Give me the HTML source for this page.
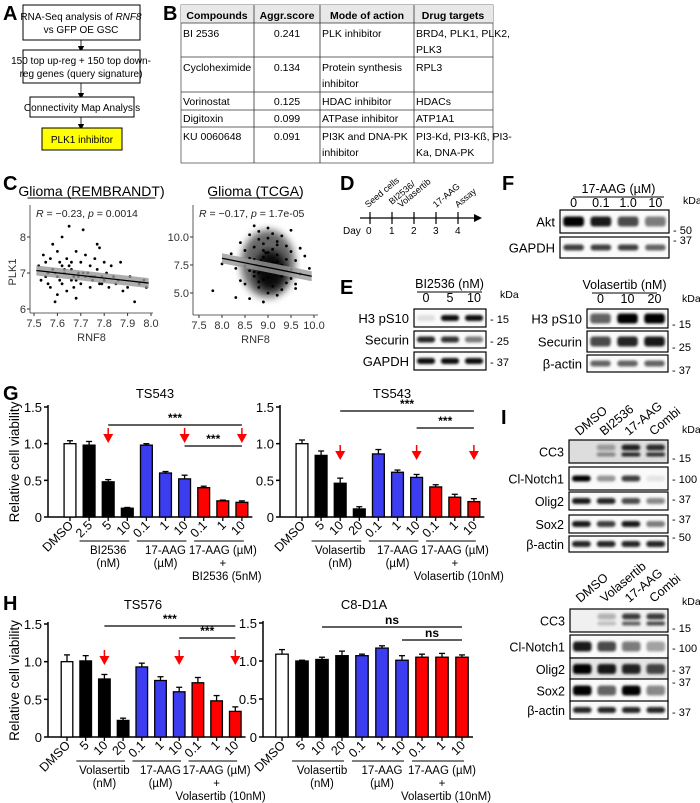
<!DOCTYPE html>
<html><head><meta charset="utf-8">
<style>
html,body{margin:0;padding:0;background:#fff;}
svg{display:block;font-family:"Liberation Sans",Arial,sans-serif;}
</style></head>
<body>
<svg id="fig" width="700" height="803" viewBox="0 0 700 803" xmlns="http://www.w3.org/2000/svg">
<defs>
<filter id="blur1" x="-20%" y="-50%" width="140%" height="200%"><feGaussianBlur stdDeviation="1.3"/></filter>
<filter id="blur3"><feGaussianBlur stdDeviation="4"/></filter>
<marker id="arr" markerWidth="8" markerHeight="8" refX="4" refY="4" orient="auto"><path d="M0,0 L8,4 L0,8 z" fill="#000"/></marker>
</defs>

<g font-weight="bold" font-size="20">
<text x="3" y="20">A</text><text x="163" y="20">B</text><text x="3" y="190">C</text>
<text x="340" y="190">D</text><text x="340" y="294">E</text><text x="502" y="190">F</text>
<text x="3" y="400">G</text><text x="3" y="610">H</text><text x="501" y="424">I</text>
</g>

<g font-size="10" text-anchor="middle">
<rect x="23" y="5" width="117" height="35" fill="#fff" stroke="#000"/>
<text x="81" y="20">RNA-Seq analysis of <tspan font-style="italic">RNF8</tspan></text>
<text x="81" y="33">vs GFP OE GSC</text>
<line x1="81" y1="40" x2="81" y2="49" stroke="#000" marker-end="url(#arr)" stroke-width="0.8"/>
<rect x="23" y="50" width="117" height="33" fill="#fff" stroke="#000"/>
<text x="81" y="64">150 top up-reg + 150 top down-</text>
<text x="81" y="77">reg genes (query signature)</text>
<line x1="81" y1="83" x2="81" y2="96" stroke="#000" marker-end="url(#arr)" stroke-width="0.8"/>
<rect x="30" y="97" width="104" height="20" fill="#fff" stroke="#000"/>
<text x="82" y="111">Connectivity Map Analysis</text>
<line x1="81" y1="117" x2="81" y2="127" stroke="#000" marker-end="url(#arr)" stroke-width="0.8"/>
<rect x="42" y="128" width="80" height="22" fill="#ffff00" stroke="#000"/>
<text x="82" y="143">PLK1 inhibitor</text>
</g>

<g font-size="10.5">
<rect x="181" y="5" width="312" height="158" fill="#fff" stroke="#555" stroke-width="0.8"/>
<rect x="181" y="5" width="312" height="18" fill="#e8e8e8"/>
<g stroke="#333" stroke-width="0.8">
<line x1="181" y1="23" x2="493" y2="23"/><line x1="181" y1="57" x2="493" y2="57"/>
<line x1="181" y1="92" x2="493" y2="92"/><line x1="181" y1="110" x2="493" y2="110"/>
<line x1="181" y1="127" x2="493" y2="127"/>
<line x1="254" y1="5" x2="254" y2="163"/><line x1="320" y1="5" x2="320" y2="163"/><line x1="414" y1="5" x2="414" y2="163"/>
</g>
<g font-weight="bold" text-anchor="middle"><text x="217" y="19">Compounds</text><text x="287" y="19">Aggr.score</text><text x="367" y="19">Mode of action</text><text x="453" y="19">Drug targets</text></g>
<g>
<text x="183" y="37">BI 2536</text><text x="287" y="37" text-anchor="middle">0.241</text><text x="322" y="37">PLK inhibitor</text><text x="416" y="37">BRD4, PLK1, PLK2,</text><text x="416" y="53">PLK3</text>
<text x="183" y="71">Cycloheximide</text><text x="287" y="71" text-anchor="middle">0.134</text><text x="322" y="71">Protein synthesis</text><text x="322" y="87">inhibitor</text><text x="416" y="71">RPL3</text>
<text x="183" y="105">Vorinostat</text><text x="287" y="105" text-anchor="middle">0.125</text><text x="322" y="105">HDAC inhibitor</text><text x="416" y="105">HDACs</text>
<text x="183" y="122">Digitoxin</text><text x="287" y="122" text-anchor="middle">0.099</text><text x="322" y="122">ATPase inhibitor</text><text x="416" y="122">ATP1A1</text>
<text x="183" y="140">KU 0060648</text><text x="287" y="140" text-anchor="middle">0.091</text><text x="322" y="140">PI3K and DNA-PK</text><text x="322" y="156">inhibitor</text><text x="416" y="140">PI3-Kd, PI3-Kß, PI3-</text><text x="416" y="156">Ka, DNA-PK</text>
</g>
</g>

<g id="scatter"></g>

<g font-size="10">
<line x1="360" y1="218" x2="476" y2="218" stroke="#000" stroke-width="1.2"/>
<path d="M474,214 L482,218 L474,222 z" fill="#000"/>
<g stroke="#000" stroke-width="1.2"><line x1="370" y1="212" x2="370" y2="224"/><line x1="392" y1="212" x2="392" y2="224"/><line x1="414" y1="212" x2="414" y2="224"/><line x1="436" y1="212" x2="436" y2="224"/><line x1="458" y1="212" x2="458" y2="224"/></g>
<text x="343" y="234">Day</text><text x="366" y="234">0</text><text x="389" y="234">1</text><text x="411" y="234">2</text><text x="433" y="234">3</text><text x="455" y="234">4</text>
<g font-size="9"><text transform="translate(368,208) rotate(-40)">Seed cells</text>
<text transform="translate(392,205) rotate(-40)">BI2536/</text><text transform="translate(401,208) rotate(-40)">Volasertib</text>
<text transform="translate(436,208) rotate(-40)">17-AAG</text><text transform="translate(458,208) rotate(-40)">Assay</text></g>
</g>

<g id="blots"></g>
<g id="bars"></g>
</svg>

<script>
const NS="http://www.w3.org/2000/svg";
function mk(tag,attrs,parent,txt){const e=document.createElementNS(NS,tag);for(const k in attrs)e.setAttribute(k,attrs[k]);if(txt!==undefined)e.textContent=txt;parent.appendChild(e);return e;}

const g1Categories=["DMSO","2.5","5","10","0.1","1","10","0.1","1","10"];
const g1Values=[1.0,0.98,0.48,0.12,0.98,0.60,0.52,0.40,0.22,0.20];
const g1Errors=[0.04,0.05,0.03,0.01,0.02,0.02,0.05,0.02,0.01,0.02];
const g2Categories=["DMSO","5","10","20","0.1","1","10","0.1","1","10"];
const g2Values=[1.0,0.84,0.46,0.11,0.86,0.61,0.54,0.41,0.27,0.21];
const g2Errors=[0.05,0.06,0.07,0.03,0.06,0.03,0.04,0.03,0.04,0.04];
const h1Categories=["DMSO","5","10","20","0.1","1","10","0.1","1","10"];
const h1Values=[1.0,1.01,0.77,0.22,0.93,0.75,0.60,0.72,0.48,0.34];
const h1Errors=[0.09,0.07,0.06,0.03,0.05,0.05,0.06,0.07,0.07,0.06];
const h2Categories=["DMSO","5","10","20","0.1","1","10","0.1","1","10"];
const h2Values=[1.09,1.00,1.02,1.07,1.07,1.17,1.01,1.05,1.05,1.05];
const h2Errors=[0.06,0.01,0.03,0.06,0.02,0.03,0.06,0.04,0.05,0.03];
const yTicks=[0,0.5,1.0,1.5];
const yTickLabels=["0","0.5","1.0","1.5"];
const barGroupColors=["#fff","#000","#000","#000","#3c3cf0","#3c3cf0","#3c3cf0","#f00","#f00","#f00"];

const rembrandtRNF8=[7.52,7.53,7.54,7.55,7.55,7.56,7.57,7.58,7.58,7.59,7.6,7.6,7.61,7.62,7.62,7.63,7.64,7.64,7.65,7.66,7.66,7.67,7.68,7.68,7.69,7.7,7.7,7.71,7.72,7.72,7.73,7.74,7.74,7.75,7.76,7.76,7.77,7.78,7.78,7.79,7.8,7.8,7.81,7.82,7.83,7.84,7.85,7.86,7.87,7.88,7.9,7.91,7.93,7.95,7.97,7.98,7.57,7.61,7.65,7.69,7.73,7.77,7.79,7.63,7.67,7.71,7.75,7.56,7.59,7.62,7.68,7.74,7.6,7.66];
const rembrandtPLK1=[7.2,6.8,7.5,6.9,7.3,7.0,6.6,7.8,7.1,6.2,7.6,6.9,7.3,6.7,8.0,7.0,6.5,7.4,8.3,6.8,7.1,6.9,7.6,6.3,7.0,7.3,6.7,8.2,6.9,7.5,7.0,6.6,7.2,6.8,7.4,6.9,7.1,7.7,6.7,6.9,7.3,6.8,7.0,6.6,7.2,6.9,6.7,6.8,7.3,6.5,6.6,6.9,6.2,6.7,6.8,6.6,7.4,6.8,7.2,6.9,7.0,7.8,6.7,7.1,6.6,7.0,6.9,6.7,7.0,7.2,6.8,6.9,6.4,7.3];
const tcgaRNF8=[7.8,8.0,8.2,8.3,8.4,8.4,8.5,8.5,8.6,8.6,8.6,8.7,8.7,8.7,8.7,8.8,8.8,8.8,8.8,8.8,8.9,8.9,8.9,8.9,8.9,9.0,9.0,9.0,9.0,9.0,9.0,9.1,9.1,9.1,9.1,9.1,9.2,9.2,9.2,9.2,9.3,9.3,9.3,9.3,9.4,9.4,9.4,9.5,9.5,9.5,9.6,9.6,9.7,9.7,9.8,9.9,8.6,8.8,9.0,9.2,9.4,8.5,8.7,8.9,9.1,9.3,9.5,8.3,9.6,8.95,9.05,9.15,8.85,8.75];
const tcgaPLK1=[5.2,7.6,8.5,7.2,9.5,6.1,8.8,5.8,10.2,7.0,4.5,9.1,6.5,8.0,11.0,9.8,7.4,5.5,10.5,6.8,8.2,9.4,4.2,7.7,6.2,10.8,8.6,5.0,7.1,9.9,6.4,8.9,7.3,10.3,5.6,6.9,9.6,7.8,4.8,8.4,10.1,6.6,7.5,5.3,9.2,7.0,5.9,8.7,6.3,10.6,7.9,5.4,9.0,6.7,8.3,7.2,8.1,6.0,7.6,9.3,8.0,7.4,6.9,8.8,7.7,6.5,7.1,4.6,5.8,8.6,7.3,6.8,7.9,7.5];

function barChart(cfg){
  const root=document.getElementById('bars');
  const g=mk('g',{},root);
  
  
  const y=v=>cfg.y0-(v/1.5)*(cfg.y0-cfg.y15);
  const x=i=>cfg.x0+i*cfg.step;
  mk('line',{x1:cfg.ax,y1:cfg.y15-2,x2:cfg.ax,y2:cfg.y0,stroke:'#000','stroke-width':1.5},g);
  mk('line',{x1:cfg.ax,y1:cfg.y0,x2:x(cfg.vals.length-1)+cfg.step*0.55,y2:cfg.y0,stroke:'#000','stroke-width':1.5},g);
  yTicks.forEach((t,i)=>{
    mk('line',{x1:cfg.ax-4,y1:y(t),x2:cfg.ax,y2:y(t),stroke:'#000','stroke-width':1.5},g);
    const tl=mk('text',{x:cfg.ax-6,y:y(t)+5,'text-anchor':'end','font-size':13},g,yTickLabels[i]);
    
    
  });
  cfg.vals.forEach((v,i)=>{
    const bw=cfg.step*0.62;
    const ey=y(v+cfg.errs[i]);
    mk('line',{x1:x(i),y1:ey,x2:x(i),y2:y(v),stroke:'#000','stroke-width':1.3},g);
    mk('line',{x1:x(i)-3,y1:ey,x2:x(i)+3,y2:ey,stroke:'#000','stroke-width':1.3},g);
    const b=mk('rect',{x:x(i)-bw/2,y:y(v),width:bw,height:cfg.y0-y(v),fill:barGroupColors[i],stroke:'#000','stroke-width':1.3},g);
    
    
    mk('line',{x1:x(i),y1:cfg.y0,x2:x(i),y2:cfg.y0+4,stroke:'#000','stroke-width':1.3},g);
    const lab=mk('text',{transform:`translate(${x(i)+4},${cfg.y0+9}) rotate(-45)`,'text-anchor':'end','font-size':12.5},g,cfg.cats[i]);
    
    
  });
  const yt=mk('text',{transform:`translate(${cfg.ax-29},${(cfg.y0+cfg.y15)/2}) rotate(-90)`,'text-anchor':'middle','font-size':13.5},g,cfg.showY?'Relative cell viability':'');
  
  
  const tt=mk('text',{x:cfg.titleX,y:cfg.titleY,'text-anchor':'middle','font-size':13},g,cfg.title);
  
  
  const gl=cfg.y0+24;
  [[1,3,cfg.g1],[4,6,cfg.g2],[7,9,cfg.g3]].forEach(([a,b,labs])=>{
    mk('line',{x1:x(a)-cfg.step*0.5,y1:gl,x2:x(b)+cfg.step*0.1,y2:gl,stroke:'#000','stroke-width':1},g);
    labs.forEach((s,k)=>mk('text',{x:(x(a)+x(b))/2+(k==2?4:0),y:gl+13+k*13,'text-anchor':'middle','font-size':11.5},g,s));
  });
  cfg.sig.forEach(s=>{
    mk('line',{x1:x(s[0]),y1:s[2],x2:x(s[1]),y2:s[2],stroke:'#000','stroke-width':1.3},g);
    mk('text',{x:(x(s[0])+x(s[1]))/2,y:s[2]-3,'text-anchor':'middle','font-size':12,'font-weight':'bold'},g,s[3]);
  });
  (cfg.arrows||[]).forEach(i=>{
    const a=mk('g',{},g);
    
    
    mk('line',{x1:x(i),y1:cfg.arrowY,x2:x(i),y2:cfg.arrowY+8,stroke:'#f00','stroke-width':1.5},a);
    mk('path',{d:`M${x(i)-5},${cfg.arrowY+6} L${x(i)+5},${cfg.arrowY+6} L${x(i)},${cfg.arrowY+15} z`,fill:'#f00'},a);
  });
}

barChart({name:'chart-g-ts543-bi2536',ax:48,y0:517,y15:407,x0:70,step:19.1,cats:g1Categories,vals:g1Values,errs:g1Errors,showY:true,title:'TS543',titleX:155,titleY:398,
  g1:['BI2536','(nM)'],g2:['17-AAG','(µM)'],g3:['17-AAG (µM)','+','BI2536 (5nM)'],sig:[[2,9,425,'***'],[6,9,446,'***']],arrows:[2,6,9],arrowY:428});
barChart({name:'chart-g-ts543-volasertib',ax:280,y0:517,y15:407,x0:302,step:19.1,cats:g2Categories,vals:g2Values,errs:g2Errors,showY:false,title:'TS543',titleX:392,titleY:398,
  g1:['Volasertib','(nM)'],g2:['17-AAG','(µM)'],g3:['17-AAG (µM)','+','Volasertib (10nM)'],sig:[[2,9,411,'***'],[6,9,428,'***']],arrows:[2,6,9],arrowY:445});
barChart({name:'chart-h-ts576',ax:48,y0:737,y15:624,x0:67,step:18.7,cats:h1Categories,vals:h1Values,errs:h1Errors,showY:true,title:'TS576',titleX:143,titleY:609,
  g1:['Volasertib','(nM)'],g2:['17-AAG','(µM)'],g3:['17-AAG (µM)','+','Volasertib (10nM)'],sig:[[2,9,626,'***'],[6,9,638,'***']],arrows:[2,6,9],arrowY:650});
barChart({name:'chart-h-c8d1a',ax:263,y0:737,y15:623,x0:282,step:20,cats:h2Categories,vals:h2Values,errs:h2Errors,showY:false,title:'C8-D1A',titleX:364,titleY:609,
  g1:['Volasertib','(nM)'],g2:['17-AAG','(µM)'],g3:['17-AAG (µM)','+','Volasertib (10nM)'],sig:[[2,9,627,'ns'],[6,9,640,'ns']],arrows:[],arrowY:0});

function scatter(cfg){
  const root=document.getElementById('scatter');
  const g=mk('g',{},root);
  
  
  const sx=v=>cfg.xa+(v-cfg.xmin)*cfg.kx, sy=v=>cfg.ya-(v-cfg.ymin)*cfg.ky;
  if(cfg.blob){
    mk('ellipse',{cx:sx(9.0),cy:sy(7.6),rx:27,ry:34,fill:'#000',opacity:0.6,filter:'url(#blur3)'},g);
    mk('ellipse',{cx:sx(9.05),cy:sy(7.0),rx:16,ry:20,fill:'#000',opacity:0.9,filter:'url(#blur3)'},g);
  }
  cfg.xs.forEach((v,i)=>{const p=mk('circle',{cx:sx(v),cy:sy(cfg.ys[i]),r:1.4,fill:'#000'},g);
    
    });
  const [a,b]=cfg.fit;
  const x1=sx(a[0]),y1=sy(a[1]),x2=sx(b[0]),y2=sy(b[1]);
  mk('path',{d:`M${x1},${y1-5} L${x2},${y2-5} L${x2},${y2+5} L${x1},${y1+5} z`,fill:'#999',opacity:0.8},g);
  mk('line',{x1,y1,x2,y2,stroke:'#000','stroke-width':1.3},g);
  mk('line',{x1:cfg.ax,y1:205,x2:cfg.ax,y2:cfg.axb,stroke:'#333','stroke-width':0.8},g);
  mk('line',{x1:cfg.ax,y1:cfg.axb,x2:cfg.axr,y2:cfg.axb,stroke:'#333','stroke-width':0.8},g);
  cfg.xticks.forEach((t,i)=>{mk('line',{x1:sx(t),y1:cfg.axb,x2:sx(t),y2:cfg.axb+3,stroke:'#333'},g);
    mk('text',{x:sx(t),y:cfg.axb+14,'text-anchor':'middle','font-size':11,fill:'#333'},g,cfg.xlabels[i]);});
  cfg.yticks.forEach((t,i)=>{mk('line',{x1:cfg.ax-3,y1:sy(t),x2:cfg.ax,y2:sy(t),stroke:'#333'},g);
    mk('text',{x:cfg.ax-4,y:sy(t)+4,'text-anchor':'end','font-size':11,fill:'#333'},g,cfg.ylabels[i]);});
  mk('text',{x:(cfg.ax+cfg.axr)/2,y:cfg.axb+28,'text-anchor':'middle','font-size':11,fill:'#333'},g,'RNF8');
  const t=mk('text',{x:(cfg.ax+cfg.axr)/2,y:196,'text-anchor':'middle','font-size':14},g,cfg.title);
  
  
  mk('line',{x1:(cfg.ax+cfg.axr)/2-cfg.tw/2,y1:198,x2:(cfg.ax+cfg.axr)/2+cfg.tw/2,y2:198,stroke:'#000'},g);
  const r=mk('text',{x:cfg.ax+6,y:217,'font-size':10.5,fill:'#222'},g);
  r.innerHTML=cfg.rtext;
}
const plkY=[6,7,8], plkYL=["6","7","8"];
scatter({name:'scatter-rembrandt',xa:34,xmin:7.5,kx:234,ya:309,ymin:6,ky:36,xs:rembrandtRNF8,ys:rembrandtPLK1,fit:[[7.51,7.07],[7.99,6.72]],
  ax:30,axb:313,axr:153,xticks:[7.5,7.6,7.7,7.8,7.9,8.0],xlabels:["7.5","7.6","7.7","7.8","7.9","8.0"],yticks:plkY,ylabels:plkYL,title:'Glioma (REMBRANDT)',tw:128,
  rtext:'<tspan font-style="italic">R</tspan> = −0.23, <tspan font-style="italic">p</tspan> = 0.0014'});
scatter({name:'scatter-tcga',xa:199,xmin:7.5,kx:46,ya:293,ymin:5,ky:11.2,xs:tcgaRNF8,ys:tcgaPLK1,fit:[[8.0,8.1],[9.95,6.5]],blob:true,
  ax:193,axb:315,axr:318,xticks:[7.5,8.0,8.5,9.0,9.5,10.0],xlabels:["7.5","8.0","8.5","9.0","9.5","10.0"],yticks:[5,7.5,10],ylabels:["5.0","7.5","10.0"],title:'Glioma (TCGA)',tw:92,
  rtext:'<tspan font-style="italic">R</tspan> = −0.17, <tspan font-style="italic">p</tspan> = 1.7e-05'});
{const sc=document.getElementById('scatter');mk('text',{transform:'translate(16,272) rotate(-90)','text-anchor':'middle','font-size':11,fill:'#333'},sc,'PLK1');}

function blot(cfg){
  const root=document.getElementById('blots');
  const g=mk('g',{},root);
  
  
  const n=cfg.lanes.length, w=cfg.x2-cfg.x1, lw=w/n;
  cfg.rows.forEach(r=>{
    const row=mk('g',{},g);
    
    
    mk('rect',{x:cfg.x1,y:r.y1,width:w,height:r.y2-r.y1,fill:r.bg||'#fafafa',stroke:'#000','stroke-width':1.2},row);
    r.b.forEach((v,i)=>{ if(v>0.03){
      const cy=(r.y1+r.y2)/2+(r.dy||0);
      mk('rect',{x:cfg.x1+i*lw+lw*0.12,y:cy-(r.bh||3),width:lw*0.76,height:2*(r.bh||3),rx:3,fill:'#000',opacity:v,filter:'url(#blur1)'},row);
      if(r.b2) mk('rect',{x:cfg.x1+i*lw+lw*0.12,y:cy+5,width:lw*0.76,height:4,rx:2,fill:'#000',opacity:r.b2[i],filter:'url(#blur1)'},row);
    }});
    mk('text',{x:cfg.x1-5,y:(r.y1+r.y2)/2+5,'text-anchor':'end','font-size':cfg.fs||13},row,r.label);
    if(r.kda) mk('text',{x:cfg.x2+4,y:r.ky,'font-size':11},row,'- '+r.kda);
  });
  mk('text',{x:cfg.x2+14,y:cfg.kdaY,'font-size':10.5},g,'kDa');
  if(cfg.rot){cfg.lanes.forEach((l,i)=>mk('text',{transform:`translate(${cfg.x1+(i+0.5)*lw-2},${cfg.labY}) rotate(-40)`,'font-size':12.5},g,l));}
  else{cfg.lanes.forEach((l,i)=>mk('text',{x:cfg.x1+(i+0.5)*lw,y:cfg.labY,'text-anchor':'middle','font-size':12.5},g,l));
    mk('line',{x1:cfg.tl[0],y1:cfg.labY-10,x2:cfg.tl[1],y2:cfg.labY-10,stroke:'#000'},g);
    mk('text',{x:(cfg.tl[0]+cfg.tl[1])/2,y:cfg.labY-14,'text-anchor':'middle','font-size':12.5},g,cfg.title);}
}
blot({name:'blot-f-17aag',x1:560,x2:669,lanes:['0','0.1','1.0','10'],labY:207,tl:[573,664],title:'17-AAG (µM)',kdaY:204,
  rows:[{label:'Akt',y1:210,y2:233,b:[1,0.9,0.7,0.5],bh:5,kda:'50',ky:234},{label:'GAPDH',y1:237,y2:258,b:[0.75,0.75,0.75,0.6],kda:'37',ky:244}]});
blot({name:'blot-e-bi2536',x1:414,x2:486,lanes:['0','5','10'],labY:302,tl:[417,482],title:'BI2536 (nM)',kdaY:298,
  rows:[{label:'H3 pS10',y1:309,y2:327,b:[0.1,0.95,0.95],kda:'15',ky:323},{label:'Securin',y1:331,y2:348,b:[0.85,0.8,0.5],kda:'25',ky:345},{label:'GAPDH',y1:352,y2:370,b:[0.95,0.95,0.95],kda:'37',ky:366}]});
blot({name:'blot-e-volasertib',x1:587,x2:668,lanes:['0','10','20'],labY:303,tl:[592,657],title:'Volasertib (nM)',kdaY:302,
  rows:[{label:'H3 pS10',y1:309,y2:328,b:[0.6,1,1],bh:5,kda:'15',ky:328},{label:'Securin',y1:331,y2:352,b:[0.7,0.85,0.9],bh:5,kda:'25',ky:351},{label:'β-actin',y1:355,y2:372,b:[0.6,0.6,0.6],kda:'37',ky:374}]});
blot({name:'blot-i-bi2536',x1:569,x2:668,lanes:['DMSO','BI2536','17-AAG','Combi'],rot:true,labY:436,kdaY:433,fs:12.5,
  rows:[{label:'CC3',y1:440,y2:463,b:[0,0.3,0.85,0.8],b2:[0,0.4,0.85,0.8],dy:-4,bg:'#ddd',kda:'15',ky:462},
  {label:'Cl-Notch1',y1:467,y2:490,b:[1,0.4,0.75,0.08],kda:'100',ky:483},
  {label:'Olig2',y1:492,y2:510,b:[0.9,0.85,0.7,0.45],kda:'37',ky:503},
  {label:'Sox2',y1:515,y2:533,b:[0.9,0.75,0.9,0.5],kda:'37',ky:523},
  {label:'β-actin',y1:536,y2:552,b:[0.85,0.85,0.85,0.85],kda:'50',ky:541}]});
blot({name:'blot-i-volasertib',x1:570,x2:668,lanes:['DMSO','Volasertib','17-AAG','Combi'],rot:true,labY:603,kdaY:605,fs:12.5,
  rows:[{label:'CC3',y1:609,y2:632,b:[0,0.25,0.75,0.75],b2:[0,0.2,0.6,0.7],dy:-4,bg:'#f0f0f0',kda:'15',ky:632},
  {label:'Cl-Notch1',y1:635,y2:658,b:[0.9,0.7,0.5,0.35],bh:5,kda:'100',ky:652},
  {label:'Olig2',y1:658,y2:680,b:[1,0.9,0.85,0.7],bh:5,bg:'#e5e5e5',kda:'37',ky:674},
  {label:'Sox2',y1:679,y2:702,b:[1,0.6,1,0.45],bh:5,kda:'37',ky:686},
  {label:'β-actin',y1:701,y2:719,b:[0.85,0.85,0.85,0.85],kda:'37',ky:716}]});
</script>
</body></html>
